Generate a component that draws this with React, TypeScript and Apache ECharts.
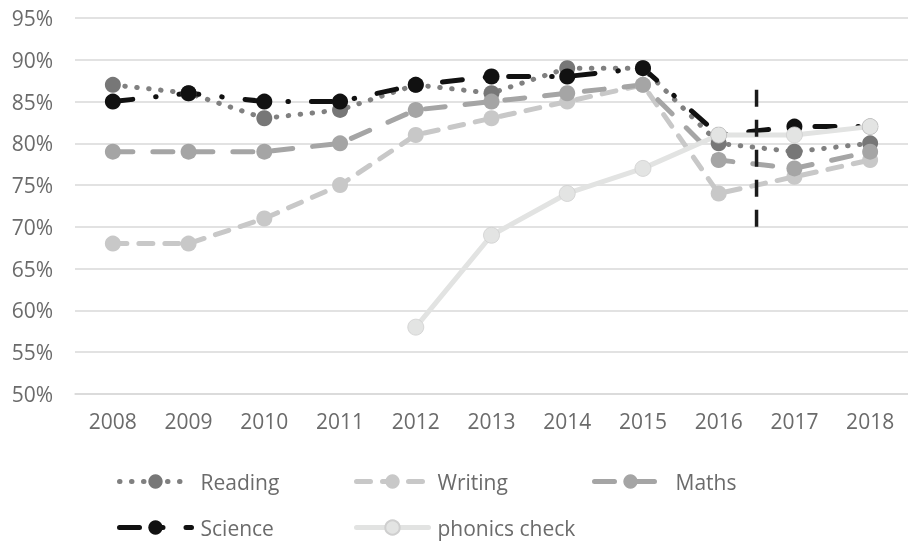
import React, { useEffect, useRef } from "react";
import * as echarts from "echarts";

const years = ["2008", "2009", "2010", "2011", "2012", "2013", "2014", "2015", "2016", "2017", "2018"];
const reading = [87, 86, 83, 84, 87, 86, 89, 89, 80, 79, 80];
const writing = [68, 68, 71, 75, 81, 83, 85, 87, 74, 76, 78];
const maths = [79, 79, 79, 80, 84, 85, 86, 87, 78, 77, 79];
const science = [85, 86, 85, 85, 87, 88, 88, 89, 81, 82, 82];
const phonics = [null, null, null, null, 58, 69, 74, 77, 81, 81, 82];
// vertical divider between 2016 and 2017 (x index 8.5), from 86.4% down to 70%
const dividerX = 8.5;
const dividerTop = 86.4;
const dividerBottom = 70;

const FONT = "'Open Sans', sans-serif";
const TEXT = "#6b6b6b";

export default function App() {
  const ref = useRef<HTMLDivElement>(null);
  useEffect(() => {
    const chart = echarts.init(ref.current!, null, { renderer: "svg" });
    const mk = (name: string, data: any[], color: string, mColor: string, type: any) => ({
      name,
      type: "line",
      data,
      symbol: "circle",
      symbolSize: 16,
      itemStyle: { color: mColor },
      lineStyle: { color, width: 5, type, cap: "round" },
      connectNulls: false,
    });
    const legendAt = (name: string, left: number, top: number) => ({
      data: [name],
      left,
      top,
      padding: 0,
      itemWidth: 72,
      itemHeight: 18,
      itemGap: 14,
      lineStyle: { width: 5, cap: "round" },
      textStyle: { fontFamily: FONT, fontSize: 21, color: TEXT, padding: [0, 0, 0, 4] },
    });
    chart.setOption({
      animation: false,
      grid: { left: 75, right: 0, top: 18, bottom: 150, containLabel: false },
      legend: [
        legendAt("Reading", 117, 471),
        legendAt("Writing", 354, 471),
        legendAt("Maths", 592, 471),
        legendAt("Science", 117, 517),
        legendAt("phonics check", 354, 517),
      ],
      xAxis: [
        {
          type: "category",
          data: years,
          boundaryGap: true,
          axisLine: { lineStyle: { color: "#d9d9d9", width: 1.5 } },
          axisTick: { show: false },
          axisLabel: { fontFamily: FONT, fontSize: 21, color: TEXT, margin: 16 },
        },
        { type: "value", min: -0.5, max: 10.5, show: false },
      ],
      yAxis: {
        type: "value",
        min: 50,
        max: 95,
        interval: 5,
        axisLine: { show: false },
        axisTick: { show: false },
        splitLine: { lineStyle: { color: "#d9d9d9", width: 1.5 } },
        axisLabel: { fontFamily: FONT, fontSize: 21, color: TEXT, margin: 22, formatter: "{value}%" },
      },
      series: [
        mk("Reading", reading, "#808080", "#777777", [0.5, 11.5]),
        mk("Writing", writing, "#c8c8c8", "#c8c8c8", [14, 12]),
        mk("Maths", maths, "#a5a5a5", "#a5a5a5", [20, 20]),
        mk("Science", science, "#111111", "#111111", [20, 23, 0.5, 23]),
        {
          ...mk("phonics check", phonics, "#e2e3e2", "#e3e4e3", "solid"),
          itemStyle: { color: "#e3e4e3", borderColor: "#cfcfcf", borderWidth: 0.8 },
        },
        {
          name: "divider",
          type: "line",
          xAxisIndex: 1,
          data: [
            [dividerX, dividerTop],
            [dividerX, dividerBottom],
          ],
          showSymbol: false,
          symbol: "none",
          lineStyle: { color: "#1a1a1a", width: 3.5, type: [17, 13] },
          silent: true,
        },
      ],
    });
    return () => chart.dispose();
  }, []);
  return <div ref={ref} style={{ position: "fixed", left: 0, top: 0, width: 908, height: 544 }} />;
}
